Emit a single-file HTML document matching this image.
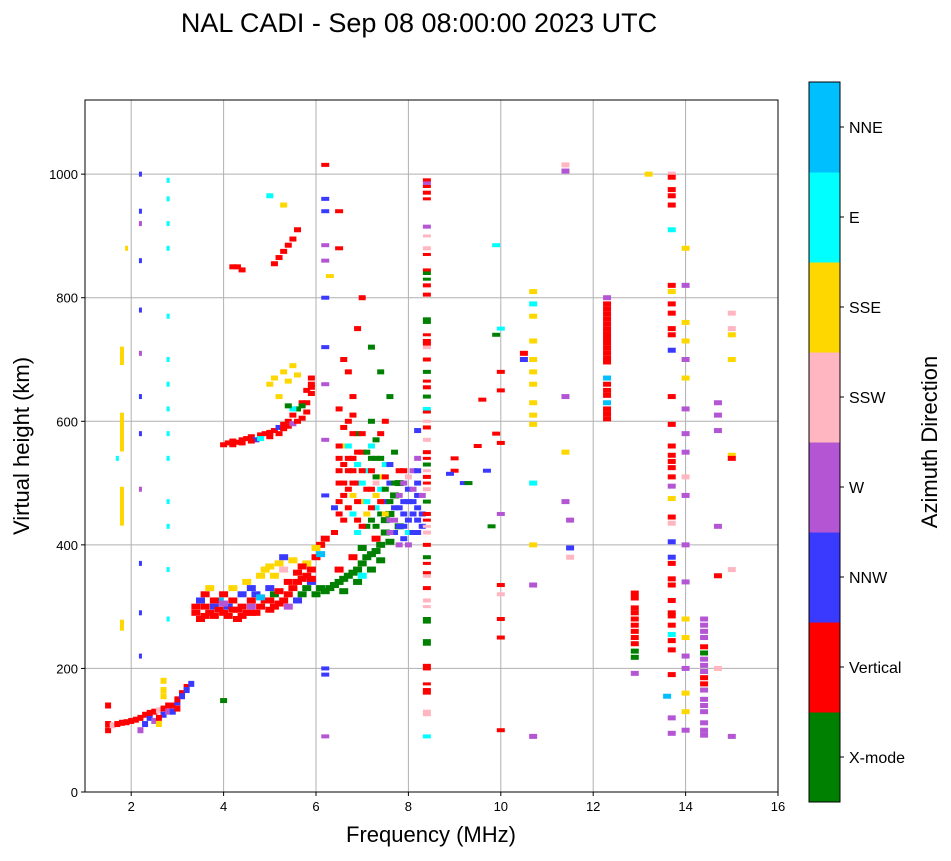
<!DOCTYPE html>
<html><head><meta charset="utf-8">
<style>
body{margin:0;background:#fff;width:951px;height:856px;overflow:hidden;font-family:"Liberation Sans",sans-serif;}
svg text{font-family:"Liberation Sans",sans-serif;}
</style></head>
<body>
<svg id="chart" width="951" height="856" viewBox="0 0 951 856" xmlns="http://www.w3.org/2000/svg">
<text x="419" y="32" font-size="27" text-anchor="middle" fill="#000">NAL CADI - Sep 08 08:00:00 2023 UTC</text>
<g id="grid"></g>
<g id="marks"></g>
<rect x="85" y="100" width="693" height="692" fill="none" stroke="#000" stroke-width="1"/>
<g id="ticks"></g>
<text x="431" y="842" font-size="22" text-anchor="middle">Frequency (MHz)</text>
<text transform="translate(29,446) rotate(-90)" font-size="22" text-anchor="middle">Virtual height (km)</text>
<g id="cbar"></g>
<text transform="translate(937,442) rotate(-90)" font-size="22" text-anchor="middle">Azimuth Direction</text>
</svg>
<script>
const dirLabels=["X-mode","Vertical","NNW","W","SSW","SSE","E","NNE"];
const dirColors=["#008000","#ff0000","#3a3aff","#b455d4","#ffb6c1","#ffd700","#00ffff","#00bfff"];
const xTicks=[2,4,6,8,10,12,14,16];
const yTicks=[0,200,400,600,800,1000];
// [freq MHz, height km, direction index]
const eLayer=[[1.5,100,1],[1.5,110,1],[1.6,108,4],[1.7,110,1],[1.8,112,1],[1.9,113,1],[2.0,115,1],[2.1,117,1],[2.2,120,1],[2.2,100,3],[2.3,125,1],[2.4,120,2],[2.4,128,1],[2.5,130,1],[2.5,115,3],[2.6,132,4],[2.7,135,1],[2.7,125,2],[2.8,130,3],[2.8,140,1],[2.9,140,1],[3.0,145,2],[3.0,150,1],[3.1,160,1],[3.1,155,2],[3.2,170,1],[3.2,165,2],[2.7,180,5],[2.6,110,5],[1.5,140,1],[2.3,110,2],[2.6,120,1],[2.9,130,2],[3.0,135,1],[2.7,155,5],[2.7,165,5],[3.3,175,2]];
const f1Trace=[[3.4,300,1],[3.4,290,1],[3.5,280,1],[3.5,310,2],[3.6,285,1],[3.6,320,1],[3.7,290,1],[3.7,330,5],[3.8,285,1],[3.8,300,2],[3.9,295,1],[3.9,310,7],[4.0,290,1],[4.0,320,1],[4.1,300,2],[4.1,285,1],[4.2,310,1],[4.2,330,5],[4.3,295,1],[4.3,280,1],[4.4,320,2],[4.4,300,1],[4.5,290,1],[4.5,340,5],[4.6,310,1],[4.6,300,3],[4.7,290,1],[4.7,320,2],[4.8,300,1],[4.8,350,5],[4.9,310,1],[4.9,360,5],[5.0,295,1],[5.0,330,2],[5.0,365,5],[5.1,300,1],[5.1,320,0],[5.2,305,1],[5.2,370,5],[5.3,310,1],[5.3,380,2],[5.4,320,1],[5.4,300,3],[5.5,330,1],[5.5,375,5],[5.6,340,1],[5.6,310,2],[5.7,345,1],[5.7,320,0],[5.8,350,1],[5.8,330,0],[5.9,360,1],[5.9,340,2],[6.0,380,1],[6.0,320,0],[6.1,400,1],[6.1,330,0],[6.2,410,1],[6.2,325,0],[6.0,395,5],[6.1,385,7],[3.6,300,1],[3.8,310,1],[4.0,305,3],[4.2,295,1],[4.4,285,1],[4.6,290,1],[4.8,315,7],[5.0,310,1],[5.2,325,1],[5.4,340,1],[5.6,355,1],[5.8,370,5],[4.6,330,2],[5.1,350,5],[5.3,360,4],[5.7,365,1],[5.9,345,1]];
const xTrace=[[6.3,330,0],[6.4,335,0],[6.5,340,0],[6.6,345,0],[6.7,350,0],[6.8,355,0],[6.9,360,0],[7.0,370,0],[7.1,380,0],[7.2,385,0],[7.3,390,0],[7.4,400,0],[7.5,420,0],[7.6,450,0],[7.7,480,0],[7.8,500,0],[6.5,360,1],[6.8,380,1],[7.0,350,6],[7.3,410,1],[6.6,325,0],[6.9,340,0],[7.2,360,0],[7.4,375,0],[7.6,405,0],[7.8,430,0],[7.0,395,0],[7.5,440,0]];
const f2Trace=[[6.4,420,1],[6.4,460,2],[6.5,500,1],[6.5,540,1],[6.6,480,1],[6.6,560,5],[6.7,520,1],[6.7,600,1],[6.8,450,6],[6.8,640,1],[6.9,500,1],[6.9,580,0],[7.0,470,5],[7.0,550,1],[7.1,520,6],[7.1,430,0],[7.2,490,1],[7.2,600,0],[7.3,460,6],[7.3,540,0],[7.4,510,5],[7.4,580,1],[7.5,470,2],[7.5,530,6],[7.6,440,3],[7.6,500,2],[7.7,420,2],[7.7,550,0],[7.8,460,2],[7.8,400,3],[7.9,430,2],[7.9,500,3],[8.0,470,2],[8.0,420,6],[8.1,450,2],[8.1,520,3],[8.2,440,2],[8.2,480,2],[8.2,500,2],[8.1,470,2],[6.6,700,1],[6.7,680,1],[6.9,750,1],[7.2,720,0],[7.4,680,0],[7.0,800,1],[6.5,620,1],[6.8,520,1],[7.2,560,6],[7.5,600,1],[7.6,640,0],[6.6,440,1],[6.9,420,6],[7.3,500,4]];
const f2Cloud=[[6.5,450,1],[6.5,470,1],[6.5,520,1],[6.5,560,1],[6.6,500,1],[6.6,530,1],[6.6,590,1],[6.7,460,1],[6.7,490,1],[6.7,540,1],[6.7,560,6],[6.8,480,5],[6.8,500,1],[6.8,540,1],[6.8,580,1],[6.8,610,1],[6.9,440,1],[6.9,470,1],[6.9,530,6],[6.9,550,1],[7.0,430,1],[7.0,500,6],[7.0,520,1],[7.0,580,1],[7.1,450,5],[7.1,490,1],[7.1,550,0],[7.1,470,6],[7.2,440,0],[7.2,460,1],[7.2,520,1],[7.2,540,0],[7.3,430,0],[7.3,480,5],[7.3,510,0],[7.3,570,0],[7.4,450,0],[7.4,470,1],[7.4,490,6],[7.4,540,0],[7.5,450,5],[7.5,490,0],[7.5,510,1],[7.6,470,0],[7.6,420,3],[7.6,530,2],[7.7,440,3],[7.7,460,2],[7.7,500,0],[7.8,430,2],[7.8,480,3],[7.8,520,1],[7.9,410,2],[7.9,450,2],[7.9,470,2],[7.9,520,1],[8.0,400,3],[8.0,440,2],[8.0,490,2],[8.0,510,4],[8.1,420,2],[8.1,490,3],[8.2,420,2],[8.2,460,2],[8.2,520,2],[8.2,540,3],[8.3,430,2],[8.3,450,2],[8.3,480,3],[8.2,585,2]];
const upperTrace=[[4.0,562,1],[4.1,565,1],[4.2,568,1],[4.3,566,1],[4.4,570,1],[4.5,572,1],[4.6,575,1],[4.7,570,2],[4.8,578,1],[4.9,580,1],[5.0,582,1],[5.1,585,1],[5.2,590,2],[5.3,595,1],[5.4,600,1],[5.5,610,1],[5.6,620,1],[5.7,630,1],[5.8,650,1],[5.9,670,1],[5.0,660,5],[5.1,670,5],[5.3,680,5],[5.5,690,5],[5.6,620,0],[4.2,850,1],[4.3,850,1],[4.4,845,1],[5.1,855,1],[5.2,865,1],[5.3,875,1],[5.4,885,1],[5.5,895,1],[5.6,910,1],[5.3,950,5],[5.0,965,6],[4.0,148,0]];
const upperExtra=[[4.2,562,1],[4.4,565,1],[4.6,568,1],[4.8,572,6],[5.0,575,1],[5.2,580,1],[5.3,588,1],[5.4,592,1],[5.5,596,3],[5.6,600,1],[5.7,605,1],[5.8,615,1],[5.8,630,1],[5.9,645,1],[5.9,660,1],[5.5,620,6],[5.4,625,0],[5.7,625,0],[5.2,640,5],[5.4,665,5],[5.6,675,5],[5.9,655,1]];
const yellowColumn=[[1.8,440,5],[1.8,455,5],[1.8,470,5],[1.8,485,5],[1.8,560,5],[1.8,575,5],[1.8,590,5],[1.8,605,5],[1.8,700,5],[1.8,712,5],[1.8,270,5]];
const lowColumns=[[1.9,880,5],[1.7,540,6],[2.2,1000,2],[2.2,940,2],[2.2,920,3],[2.2,860,2],[2.2,780,2],[2.2,710,3],[2.2,640,2],[2.2,580,2],[2.2,490,3],[2.2,370,2],[2.2,290,2],[2.2,220,2],[2.8,990,6],[2.8,960,6],[2.8,920,6],[2.8,880,6],[2.8,770,6],[2.8,700,6],[2.8,660,6],[2.8,620,6],[2.8,580,6],[2.8,540,6],[2.8,470,6],[2.8,430,6],[2.8,360,6],[2.8,280,6]];
const midColumns=[[6.2,1015,1],[6.2,960,2],[6.2,940,2],[6.5,940,1],[6.2,885,3],[6.5,880,1],[6.2,860,3],[6.3,835,5],[6.2,800,2],[6.2,720,2],[6.2,660,3],[6.2,570,3],[6.2,480,2],[6.2,200,2],[6.2,190,2],[6.2,90,3],[8.4,990,1],[8.4,985,3],[8.4,970,1],[8.4,915,3],[8.4,880,4],[8.4,840,0],[8.4,820,1],[8.4,805,1],[8.4,765,0],[8.4,730,1],[8.4,720,4],[8.4,700,1],[8.4,680,0],[8.4,655,1],[8.4,640,0],[8.4,620,6],[8.4,590,1],[8.4,570,4],[8.4,550,1],[8.4,530,0],[8.4,510,1],[8.4,490,4],[8.4,470,0],[8.4,450,1],[8.4,420,4],[8.4,400,1],[8.4,380,0],[8.4,350,4],[8.4,330,1],[8.4,310,4],[8.4,280,0],[8.4,240,0],[8.4,200,1],[8.4,165,1],[8.4,130,4],[8.4,90,6],[9.9,885,6],[10.0,750,6],[10.0,680,1],[10.0,650,1],[9.9,580,1],[10.0,565,1],[10.0,450,3],[10.0,335,1],[10.0,320,4],[10.0,280,1],[10.0,250,1],[10.0,100,1],[9.2,500,2],[9.0,520,1],[9.5,560,1],[9.7,520,2],[9.0,540,1],[9.3,500,0],[9.8,430,0],[9.6,635,1],[9.9,740,0],[8.9,515,2]];
const col84Extra=[[8.4,980,1],[8.4,960,1],[8.4,900,4],[8.4,870,1],[8.4,845,1],[8.4,830,0],[8.4,760,0],[8.4,740,1],[8.4,725,1],[8.4,665,1],[8.4,615,1],[8.4,600,4],[8.4,540,1],[8.4,520,4],[8.4,500,1],[8.4,440,1],[8.4,430,4],[8.4,370,1],[8.4,355,1],[8.4,300,4],[8.4,275,0],[8.4,245,0],[8.4,205,1],[8.4,175,1],[8.4,160,1],[8.4,125,4]];
const highColumns=[[10.7,810,5],[10.7,790,6],[10.7,770,5],[10.7,730,5],[10.7,700,5],[10.7,680,5],[10.7,660,5],[10.7,630,5],[10.7,610,5],[10.7,595,5],[10.5,710,1],[10.5,700,2],[10.7,500,6],[10.7,400,5],[10.7,335,3],[10.7,90,3],[11.4,1015,4],[11.4,1005,3],[11.4,640,3],[11.4,550,5],[11.4,470,3],[11.5,440,3],[11.5,395,2],[11.5,380,4],[12.3,800,3],[12.3,790,1],[12.3,782,1],[12.3,774,1],[12.3,766,1],[12.3,758,1],[12.3,750,1],[12.3,742,1],[12.3,734,1],[12.3,726,1],[12.3,718,1],[12.3,710,1],[12.3,702,1],[12.3,696,1],[12.3,670,7],[12.3,660,1],[12.3,650,1],[12.3,642,1],[12.3,630,7],[12.3,620,1],[12.3,612,1],[12.3,604,1],[12.9,322,1],[12.9,314,1],[12.9,298,1],[12.9,290,1],[12.9,280,1],[12.9,270,1],[12.9,260,1],[12.9,250,1],[12.9,240,1],[12.9,228,0],[12.9,218,0],[12.9,192,3],[13.2,1000,5],[13.7,1000,4],[13.7,995,1],[13.7,975,1],[13.7,965,1],[13.7,950,1],[13.7,910,6],[13.7,820,1],[13.7,810,5],[13.7,790,1],[13.7,775,1],[13.7,750,1],[13.7,740,1],[13.7,715,2],[13.7,640,1],[13.7,595,1],[13.7,560,1],[13.7,545,1],[13.7,535,1],[13.7,525,1],[13.7,510,1],[13.7,495,3],[13.7,475,5],[13.7,445,1],[13.7,435,4],[13.7,405,2],[13.7,380,2],[13.7,370,1],[13.7,345,1],[13.7,335,1],[13.7,310,1],[13.7,290,1],[13.7,285,1],[13.7,270,1],[13.7,255,6],[13.7,245,1],[13.7,230,1],[13.7,190,1],[13.7,120,3],[13.7,95,3],[14.0,880,5],[14.0,820,3],[14.0,760,5],[14.0,730,5],[14.0,700,3],[14.0,670,5],[14.0,620,3],[14.0,580,3],[14.0,550,3],[14.0,510,4],[14.0,480,3],[14.0,400,3],[14.0,340,3],[14.0,280,5],[14.0,250,5],[14.0,220,3],[14.0,200,3],[14.0,160,5],[14.0,130,5],[14.0,100,3],[14.4,280,3],[14.4,270,3],[14.4,260,3],[14.4,250,3],[14.4,235,1],[14.4,225,0],[14.4,215,3],[14.4,205,3],[14.4,195,3],[14.4,185,1],[14.4,175,1],[14.4,165,3],[14.4,150,3],[14.4,140,3],[14.4,130,3],[14.4,112,3],[14.4,100,3],[14.4,92,3],[14.7,630,3],[14.7,610,3],[14.7,585,3],[14.7,430,3],[14.7,350,1],[14.7,200,4],[15.0,775,4],[15.0,750,4],[15.0,740,5],[15.0,700,5],[15.0,545,5],[15.0,540,1],[15.0,360,4],[15.0,90,3],[13.6,155,7]];

const X0=85,X1=778,Y0=792,Y1=100,FMIN=1,FMAX=16,HMIN=0,HMAX=1120;
function xs(f){return X0+(f-FMIN)/(FMAX-FMIN)*(X1-X0);}
function ys(h){return Y0-(h-HMIN)/(HMAX-HMIN)*(Y0-Y1);}
const NS="http://www.w3.org/2000/svg";
function mk(tag,attrs,parent){const e=document.createElementNS(NS,tag);for(const k in attrs)e.setAttribute(k,attrs[k]);parent.appendChild(e);return e;}
const grid=document.getElementById('grid'),ticks=document.getElementById('ticks'),marks=document.getElementById('marks'),cbar=document.getElementById('cbar');
xTicks.forEach(t=>{const x=xs(t);
 const g=mk('line',{x1:x,x2:x,y1:Y1,y2:Y0,stroke:'#b0b0b0','stroke-width':1},grid);
 
 
 mk('line',{x1:x,x2:x,y1:Y0,y2:Y0+4,stroke:'#000'},ticks);
 const l=mk('text',{x:x,y:Y0+19,'font-size':13,'text-anchor':'middle'},ticks);l.textContent=t;
 
 
});
yTicks.forEach(t=>{const y=ys(t);
 const g=mk('line',{x1:X0,x2:X1,y1:y,y2:y,stroke:'#b0b0b0','stroke-width':1},grid);
 
 
 mk('line',{x1:X0-4,x2:X0,y1:y,y2:y,stroke:'#000'},ticks);
 const l=mk('text',{x:X0-7,y:y+5,'font-size':13,'text-anchor':'end'},ticks);l.textContent=t;
 
 
});
function draw(arr,w,h){arr.forEach(p=>{
 const r=mk('rect',{x:xs(p[0])-w/2,y:ys(p[1])-h/2,width:w,height:h,fill:dirColors[p[2]]},marks);
 
 
});}
draw(eLayer,6,6);draw(f1Trace,9,6);draw(xTrace,9,6);draw(f2Trace,7,5);draw(f2Cloud,7,5);draw(upperTrace,7,5);draw(upperExtra,7,5);
draw(yellowColumn,4,11);draw(lowColumns,3,5);draw(midColumns,8,4);draw(col84Extra,8,3);draw(highColumns,8,5);
const CX=809,CW=31,CT=82,CB=802,seg=(CB-CT)/dirLabels.length;
dirLabels.forEach((d,i)=>{const y=CB-(i+1)*seg;
 const r=mk('rect',{x:CX,y:y,width:CW,height:seg+0.5,fill:dirColors[i]},cbar);
 
 
 mk('line',{x1:CX+CW,x2:CX+CW+4,y1:y+seg/2,y2:y+seg/2,stroke:'#000'},cbar);
 const l=mk('text',{x:CX+CW+9,y:y+seg/2+6,'font-size':16},cbar);l.textContent=d;
 
 
});
mk('rect',{x:CX,y:CT,width:CW,height:CB-CT,fill:'none',stroke:'#000'},cbar);
</script>
</body></html>
